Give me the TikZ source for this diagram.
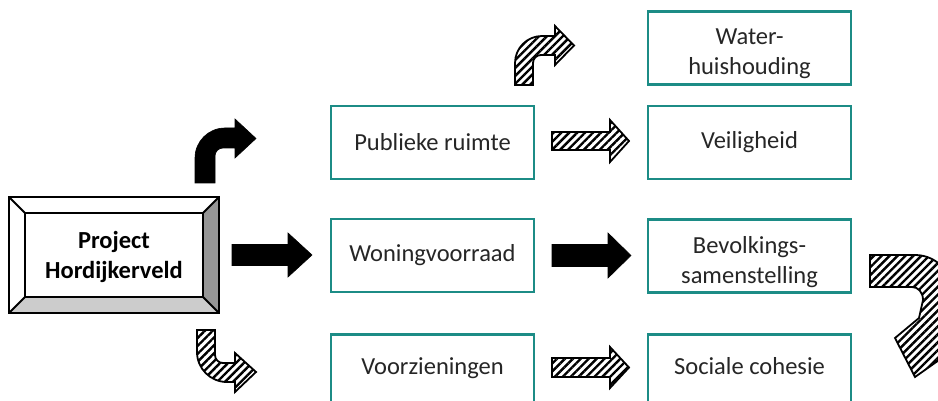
\documentclass[tikz,border=0pt]{standalone}
\usepackage{fontspec}
\setmainfont{Carlito}
\usetikzlibrary{patterns.meta}
\definecolor{boxteal}{RGB}{28,140,134}
\definecolor{inkgray}{RGB}{38,38,38}
\definecolor{bevdark}{RGB}{150,150,150}
\definecolor{bevlight}{RGB}{204,204,204}
\begin{document}
\begin{tikzpicture}[x=1pt,y=-1pt,
  box/.style={draw=boxteal, line width=2.4pt, minimum width=203pt, minimum height=73pt,
    inner sep=0pt},
  boxtext/.style={inner sep=0pt, align=center, text=inkgray,
    font=\fontsize{24.5}{29.5}\selectfont},
  hatched/.style={draw=black, line width=1.8pt, line join=miter,
    pattern={Lines[angle=45,distance=5.6pt,line width=2.4pt]}},
  solidarrow/.style={fill=black, draw=black, line width=0.6pt, line join=miter},
  bevelline/.style={draw=black, line width=2pt, line join=miter}
]
\useasboundingbox (0,0) rectangle (938,401);
\clip (0,0) rectangle (938,401);
\fill[white] (0,0) rectangle (938,401);

% bevelled project box
\fill[white] (9,197) -- (219,197) -- (203,213) -- (25,213) -- cycle;
\fill[white] (9,197) -- (25,213) -- (25,297) -- (9,313) -- cycle;
\fill[bevdark] (219,197) -- (219,313) -- (203,297) -- (203,213) -- cycle;
\fill[bevlight] (9,313) -- (219,313) -- (203,297) -- (25,297) -- cycle;
\fill[white] (25,213) rectangle (203,297);
\draw[bevelline] (9,197) rectangle (219,313);
\draw[bevelline] (25,213) rectangle (203,297);
\draw[bevelline] (9,197) -- (25,213) (219,197) -- (203,213)
                 (9,313) -- (25,297) (219,313) -- (203,297);
\node[align=center, font=\fontsize{24.5}{29.5}\selectfont\bfseries, text=black]
  (proj) at (114,257) {Project\\Hordijkerveld};

% theme boxes
\node[box] (pub)  at (432.5,142.5) {};
\node[box] (won)  at (432.5,255.5) {};
\node[box, minimum height=69pt] (voor) at (432.5,369) {};
\node[box] (wat)  at (749.5,48)    {};
\node[box] (veil) at (749.5,142.5) {};
\node[box] (bev)  at (749.5,256)   {};
\node[box, minimum height=69pt] (soc)  at (749.5,369) {};

% box labels
\node[boxtext] (pubtext)  at (pub.center)  {Publieke ruimte};
\node[boxtext] (wontext)  at (won.center)  {Woningvoorraad};
\node[boxtext] (voortext) at ([yshift=1pt]voor.center) {Voorzieningen};
\node[boxtext] (wattext)  at ([yshift=-5.5pt]wat.center)  {Water-\\huishouding};
\node[boxtext] (veiltext) at (veil.center) {Veiligheid};
\node[boxtext] (bevtext)  at ([yshift=-6pt]bev.center)  {Bevolkings-\\samenstelling};
\node[boxtext] (soctext)  at ([yshift=2.5pt]soc.center)  {Sociale cohesie};

% black straight arrows
\draw[solidarrow] (232,244.5) -- (288,244.5) -- (288,233) -- (312,255) -- (288,277)
  -- (288,265.5) -- (232,265.5) -- cycle;
\draw[solidarrow] (552,244.5) -- (608,244.5) -- (608,233) -- (631,255.5) -- (608,278)
  -- (608,266.5) -- (552,266.5) -- cycle;

% black bent arrow (up, then right)
\draw[solidarrow] (195,183) -- (195,158) .. controls (195,141.4) and (208.4,128) .. (225,128)
  -- (235,128) -- (235,119) -- (256,138.5) -- (235,158) -- (235,148) -- (223,148)
  .. controls (218.6,148) and (215,151.6) .. (215,156) -- (215,183) -- cycle;

% hatched straight arrows
\draw[hatched] (552,132) -- (610,132) -- (610,120) -- (629,141) -- (610,162)
  -- (610,150) -- (552,150) -- cycle;
\draw[hatched] (552,358) -- (610,358) -- (610,347) -- (629,367.5) -- (610,388)
  -- (610,377) -- (552,377) -- cycle;

% hatched bent arrow (down, then right)
\draw[hatched] (197,330) -- (197,352) .. controls (197,368.6) and (210.4,382) .. (227,382)
  -- (235,382) -- (235,392) -- (256,372) -- (235,353) -- (235,363) -- (223,363)
  .. controls (218.6,363) and (215,359.4) .. (215,355) -- (215,330) -- cycle;

% hatched bent arrow (up, then right) above the public space box
\draw[hatched] (515,85) -- (515,63) .. controls (515,48.1) and (527.1,36) .. (542,36)
  -- (555,36) -- (555,26) -- (574,45.5) -- (555,65) -- (555,55) -- (541,55)
  .. controls (536.6,55) and (533,58.6) .. (533,63) -- (533,85) -- cycle;

% hatched turning arrow on the right
\draw[hatched] (870,255) -- (915,255) .. controls (938,255) and (955,275) .. (955,300)
  -- (956,330) -- (959,346) -- (915,377) -- (895,338) -- (919,318) -- (923,300)
  .. controls (923,292) and (918,287) .. (912,287) -- (870,287) -- cycle;
\end{tikzpicture}
\end{document}
